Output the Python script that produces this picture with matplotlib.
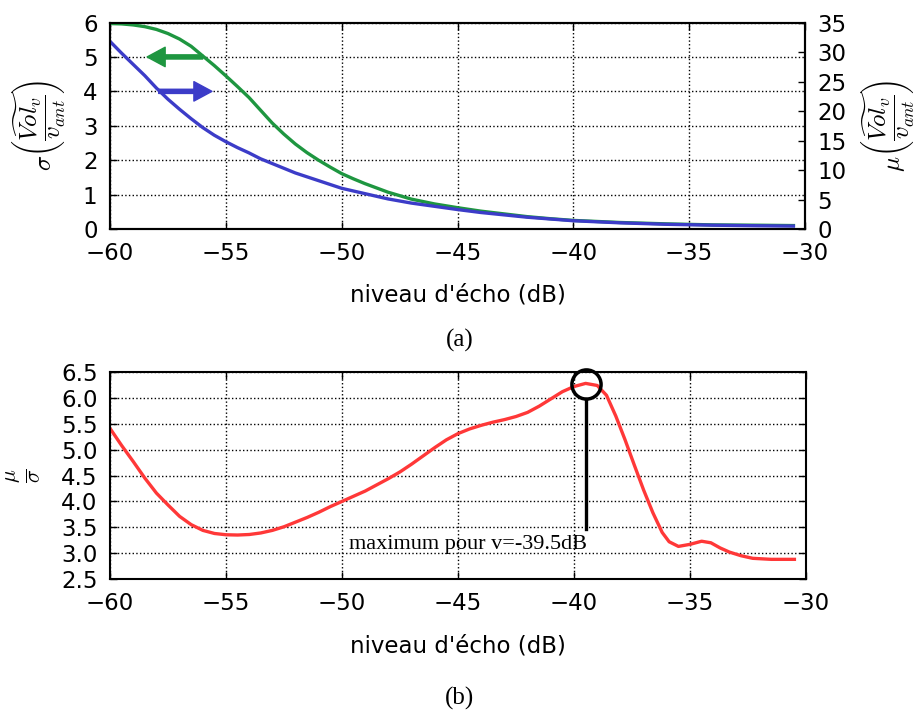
import matplotlib

matplotlib.use("Agg")
import matplotlib.pyplot as plt

plt.rcParams["mathtext.fontset"] = "cm"

# courbe sigma (axe gauche)
x_sigma = [-60, -59.5, -59, -58.5, -58, -57.5, -57, -56.5, -56, -55.5, -55, -54.5, -54,
           -53.5, -53, -52.5, -52, -51.5, -51, -50.5, -50, -49.5, -49, -48, -47, -46,
           -45, -44, -43, -42, -41, -40, -38, -36, -34, -32, -30.5]
sigma_vals = [5.97, 5.96, 5.93, 5.88, 5.80, 5.68, 5.52, 5.31, 5.03, 4.75, 4.45, 4.14, 3.82,
              3.45, 3.08, 2.76, 2.47, 2.22, 2.00, 1.80, 1.61, 1.46, 1.32, 1.07, 0.87, 0.73,
              0.62, 0.52, 0.44, 0.36, 0.30, 0.25, 0.19, 0.15, 0.12, 0.11, 0.10]

# courbe mu (axe droit)
x_mu = [-60, -59.5, -59, -58.5, -58, -57.5, -57, -56.5, -56, -55.5, -55, -54.5, -54,
        -53.5, -53, -52.5, -52, -51, -50, -49, -48, -47, -46, -45, -44, -43, -42, -41,
        -40, -38, -36, -34, -32, -30.5]
mu_vals = [31.8, 29.8, 27.9, 26.0, 23.9, 22.0, 20.3, 18.7, 17.2, 15.9, 14.8, 13.8, 12.9,
           11.9, 11.1, 10.3, 9.5, 8.2, 6.9, 6.0, 5.1, 4.4, 3.85, 3.3, 2.8, 2.4, 2.0, 1.7,
           1.4, 1.05, 0.8, 0.65, 0.55, 0.5]

# rapport mu/sigma
x_ratio = [-60, -59.5, -59, -58.5, -58, -57.5, -57, -56.5, -56, -55.5, -55, -54.5, -54,
           -53.5, -53, -52.5, -52, -51.5, -51, -50.5, -50, -49, -48, -47.5, -47, -46.5,
           -46, -45.5, -45, -44.5, -44, -43.5, -43, -42.5, -42, -41.5, -41, -40.5, -40,
           -39.5, -39.0, -38.6, -38.2, -37.8, -37.4, -37.0, -36.6, -36.2, -35.9, -35.5,
           -35.0, -34.5, -34.1, -33.7, -33.3, -32.8, -32.3, -31.5, -30.5]
ratio_vals = [5.41, 5.08, 4.77, 4.45, 4.16, 3.93, 3.71, 3.55, 3.44, 3.38, 3.355, 3.35, 3.36,
              3.39, 3.44, 3.51, 3.60, 3.69, 3.79, 3.90, 4.00, 4.20, 4.44, 4.57, 4.72, 4.88,
              5.04, 5.19, 5.31, 5.40, 5.47, 5.53, 5.58, 5.64, 5.72, 5.84, 5.98, 6.12, 6.22,
              6.28, 6.24, 6.05, 5.65, 5.19, 4.70, 4.22, 3.78, 3.40, 3.22, 3.13,
              3.17, 3.23, 3.20, 3.10, 3.02, 2.95, 2.90, 2.88, 2.88]

x_max = -39.5
ratio_max = 6.26

xticks = [-60, -55, -50, -45, -40, -35, -30]
sigma_ticks = [0, 1, 2, 3, 4, 5, 6]
mu_ticks = [0, 5, 10, 15, 20, 25, 30, 35]
ratio_ticks = [2.5, 3.0, 3.5, 4.0, 4.5, 5.0, 5.5, 6.0, 6.5]

GREEN = "#1e9640"
BLUE = "#3c3cc8"
RED = "#ff3838"
TICK_FS = 16.5
SERIF = "Liberation Serif"


def style_axis(ax):
    for sp in ax.spines.values():
        sp.set_linewidth(1.5)
    ax.tick_params(direction="in", length=5, width=1, labelsize=TICK_FS, pad=9)


fig = plt.figure(figsize=(9.2, 7.15), dpi=100)

ax = fig.add_axes([0.1196, 0.6797, 0.7554, 0.2888])
ax2 = ax.twinx()
ax.plot(x_sigma, sigma_vals, color=GREEN, lw=2.4, zorder=3)
ax2.plot(x_mu, mu_vals, color=BLUE, lw=2.4)
ax.set_xlim(-60, -30)
ax.set_ylim(0, 6)
ax2.set_ylim(0, 35)
ax.set_xticks(xticks)
ax.set_yticks(sigma_ticks)
ax2.set_yticks(mu_ticks)
ax.grid(True, linestyle=":", color="black", linewidth=1)
style_axis(ax)
style_axis(ax2)
ax.tick_params(top=True, right=False)
ax.set_xlabel("niveau d'écho (dB)", fontsize=TICK_FS)
ax.xaxis.set_label_coords(0.5, -0.266)
ax.set_ylabel(r"$\sigma\left(\dfrac{\widetilde{Vol_v}}{v_{ant}}\right)$", fontsize=18)
ax.yaxis.set_label_coords(-0.062, 0.5)
ax2.set_ylabel(r"$\mu\left(\dfrac{\widetilde{Vol_v}}{v_{ant}}\right)$", fontsize=18,
               rotation=90)
ax2.yaxis.set_label_coords(1.077, 0.5)

arrow = dict(width=3, headwidth=14, headlength=13, shrink=0)
ax.annotate("", xy=(-58.4, 5), xytext=(-56.0, 5),
            arrowprops=dict(facecolor=GREEN, edgecolor=GREEN, **arrow), zorder=4)
ax.annotate("", xy=(-55.6, 4), xytext=(-57.9, 4),
            arrowprops=dict(facecolor=BLUE, edgecolor=BLUE, **arrow), zorder=4)

bx = fig.add_axes([0.1196, 0.1902, 0.7565, 0.2895])
bx.plot(x_ratio, ratio_vals, color=RED, lw=2.4)
bx.plot([x_max, x_max], [3.47, 5.98], color="black", lw=2.4)
bx.plot([x_max], [ratio_max], marker="o", markersize=21, markerfacecolor="none",
        markeredgecolor="black", markeredgewidth=2.5, clip_on=False)
bx.text(-49.7, 3.08, "maximum pour v=-39.5dB", family=SERIF, fontsize=16, va="baseline")
bx.set_xlim(-60, -30)
bx.set_ylim(2.5, 6.5)
bx.set_xticks(xticks)
bx.set_yticks(ratio_ticks)
bx.grid(True, linestyle=":", color="black", linewidth=1)
style_axis(bx)
bx.tick_params(top=True, right=True)
bx.set_xlabel("niveau d'écho (dB)", fontsize=TICK_FS)
bx.xaxis.set_label_coords(0.5, -0.266)
bx.set_ylabel(r"$\frac{\mu}{\sigma}$", fontsize=22)
bx.yaxis.set_label_coords(-0.096, 0.5)

fig.text(0.5, 1 - 340 / 715, "(a)", family=SERIF, fontsize=18, ha="center", va="center")
fig.text(0.5, 1 - 698 / 715, "(b)", family=SERIF, fontsize=18, ha="center", va="center")

fig.savefig("out.png", dpi=100)
